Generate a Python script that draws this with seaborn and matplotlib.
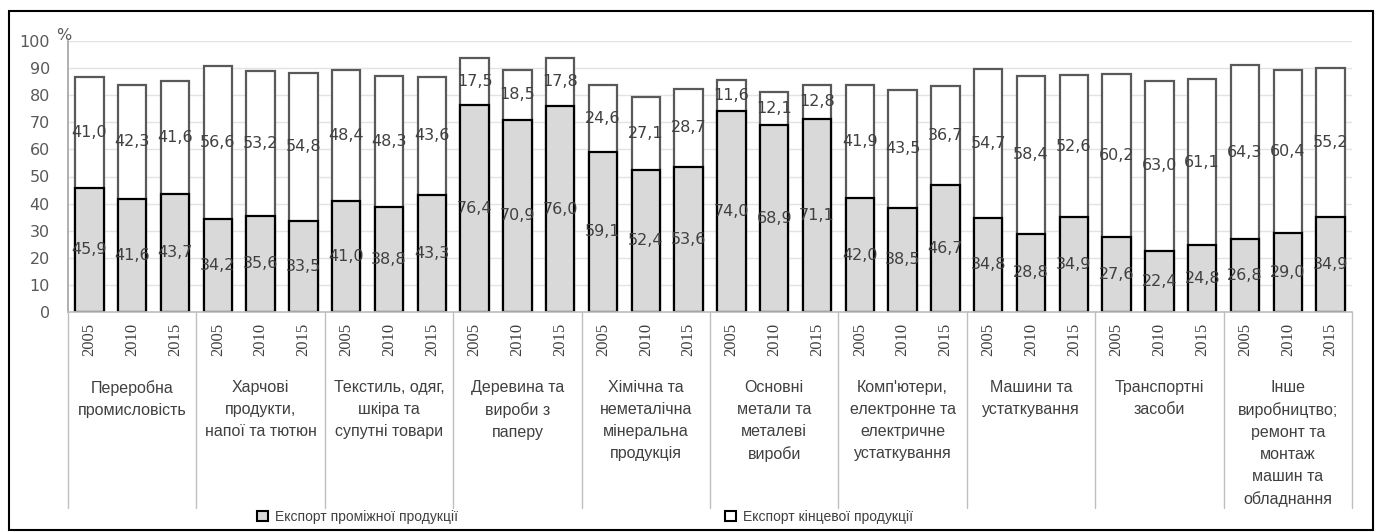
import numpy as np
import pandas as pd
import seaborn as sns
import matplotlib.pyplot as plt
from matplotlib.patches import Patch, Rectangle
from matplotlib.transforms import blended_transform_factory

sns.set_theme(style="white")
plt.rcParams['font.family'] = ['DejaVu Sans']

# Data
categories = [
    "Переробна\nпромисловість",
    "Харчові\nпродукти,\nнапої та тютюн",
    "Текстиль, одяг,\nшкіра та\nсупутні товари",
    "Деревина та\nвироби з\nпаперу",
    "Хімічна та\nнеметалічна\nмінеральна\nпродукція",
    "Основні\nметали та\nметалеві\nвироби",
    "Комп'ютери,\nелектронне та\nелектричне\nустаткування",
    "Машини та\nустаткування",
    "Транспортні\nзасоби",
    "Інше\nвиробництво;\nремонт та\nмонтаж\nмашин та\nобладнання",
]
years = ["2005", "2010", "2015"]

# Експорт проміжної продукції, % (2005, 2010, 2015 per category)
intermediate = [
    45.9, 41.6, 43.7,
    34.2, 35.6, 33.5,
    41.0, 38.8, 43.3,
    76.4, 70.9, 76.0,
    59.1, 52.4, 53.6,
    74.0, 68.9, 71.1,
    42.0, 38.5, 46.7,
    34.8, 28.8, 34.9,
    27.6, 22.4, 24.8,
    26.8, 29.0, 34.9,
]
# Експорт кінцевої продукції, %
final = [
    41.0, 42.3, 41.6,
    56.6, 53.2, 54.8,
    48.4, 48.3, 43.6,
    17.5, 18.5, 17.8,
    24.6, 27.1, 28.7,
    11.6, 12.1, 12.8,
    41.9, 43.5, 36.7,
    54.7, 58.4, 52.6,
    60.2, 63.0, 61.1,
    64.3, 60.4, 55.2,
]

df = pd.DataFrame({
    "cat": np.repeat(np.arange(len(categories)), len(years)),
    "year": years * len(categories),
    "inter": intermediate,
    "final": final,
})
df["key"] = df["cat"].astype(str) + "_" + df["year"]
df["total"] = df["inter"] + df["final"]
order = list(df["key"])

fig = plt.figure(figsize=(13.79, 5.32), dpi=100)
ax = fig.add_axes([68 / 1379, 1 - 312 / 532, (1352 - 68) / 1379, (312 - 41) / 532])

ax.yaxis.grid(True, color="#e3e3e3", linewidth=1.0)
ax.set_axisbelow(True)

# white (final) bars stacked on top: draw total first, then intermediate over it
sns.barplot(data=df, x="key", y="total", order=order, color="white", saturation=1,
            edgecolor="#595959", linewidth=1.6, width=0.66, errorbar=None, ax=ax)
sns.barplot(data=df, x="key", y="inter", order=order, color="#d9d9d9", saturation=1,
            edgecolor="black", linewidth=1.6, width=0.66, errorbar=None, ax=ax)

# value labels
for i, row in df.reset_index(drop=True).iterrows():
    ax.text(i, row["inter"] / 2, f"{row['inter']:.1f}".replace(".", ","),
            ha="center", va="center", fontsize=11.5, color="#404040", zorder=5)
    ax.text(i, row["inter"] + row["final"] / 2, f"{row['final']:.1f}".replace(".", ","),
            ha="center", va="center", fontsize=11.5, color="#404040", zorder=5)

ax.set_ylim(0, 100)
ax.set_xlim(-0.5, len(order) - 0.5)
ax.set_yticks(range(0, 101, 10))
ax.tick_params(axis="y", labelsize=11.5, labelcolor="#595959", length=0, pad=13)
ax.set_xticks(range(len(order)))
ax.set_xticklabels(df["year"], rotation=90, fontsize=12, color="#404040",
                   family=["Liberation Serif", "DejaVu Serif"])
ax.tick_params(axis="x", length=0, pad=8)
ax.set_xlabel("")
ax.set_ylabel("")
for s in ["top", "right"]:
    ax.spines[s].set_visible(False)
ax.spines["left"].set_color("#a6a6a6")
ax.spines["bottom"].set_color("#bfbfbf")

# category dividers and names
trans = blended_transform_factory(ax.transData, ax.transAxes)
n_y = len(years)
for g in range(len(categories) + 1):
    ax.plot([g * n_y - 0.5] * 2, [0, -(508 - 312) / 271], color="#bfbfbf",
            linewidth=1.0, transform=trans, clip_on=False)
for g, name in enumerate(categories):
    ax.text(g * n_y + 1, -(380 - 312) / 271, name, transform=trans, ha="center", va="top",
            fontsize=11.5, color="#404040", linespacing=1.58,
            family=["Liberation Sans Narrow", "Liberation Sans"])

fig.text(64 / 1379, 1 - 35 / 532, "%", ha="center", va="center", fontsize=11.5, color="#595959")

handles = [Patch(facecolor="#d9d9d9", edgecolor="black", linewidth=1.5),
           Patch(facecolor="white", edgecolor="black", linewidth=1.5)]
fig.legend(handles, ["Експорт проміжної продукції", "Експорт кінцевої продукції"],
           loc="center", bbox_to_anchor=(585 / 1379, 1 - 517 / 532), ncol=2, frameon=False,
           handlelength=0.8, handleheight=0.8, handletextpad=0.5, columnspacing=19.2,
           prop={"family": ["Liberation Sans Narrow", "Liberation Sans"], "size": 10},
           labelcolor="#404040")

fig.patches.append(Rectangle((9 / 1379, 1 - 530 / 532), (1373 - 9) / 1379, (530 - 11) / 532,
                             transform=fig.transFigure, fill=False, edgecolor="black",
                             linewidth=1.5))

fig.savefig("out.png", dpi=100)
